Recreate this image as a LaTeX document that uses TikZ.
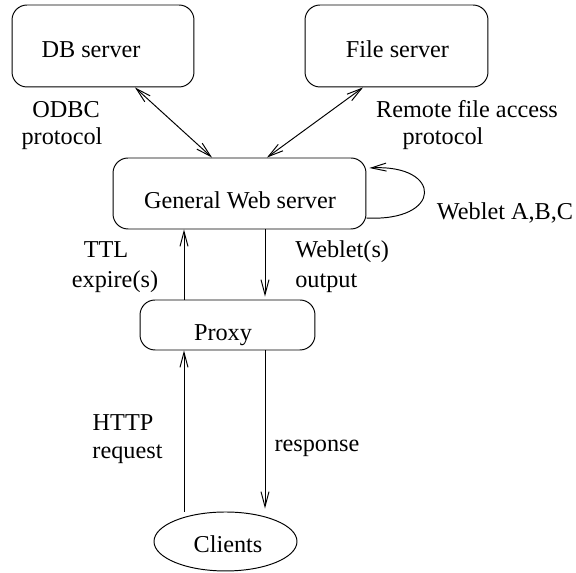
\documentclass[tikz,border=0pt]{standalone}
\usepackage{fontspec}
\setmainfont{Liberation Serif}
\usetikzlibrary{shapes.geometric, arrows.meta, positioning}

\begin{document}
\begin{tikzpicture}[
    x=0.02cm, y=-0.02cm,
    font=\fontsize{13.8pt}{16pt}\selectfont,
    srv/.style={rectangle, rounded corners=0.3cm, draw, line width=0.55pt, inner sep=0pt},
    client/.style={ellipse, draw, line width=0.55pt, inner sep=0pt},
    txt/.style={anchor=base, inner sep=0pt},
    arrow/.style={line width=0.55pt, -{Straight Barb[length=0.3cm, width=0.16cm]}},
    biarrow/.style={line width=0.55pt, {Straight Barb[length=0.3cm, width=0.16cm]}-{Straight Barb[length=0.3cm, width=0.16cm]}}
]
\useasboundingbox (0,0) rectangle (576,573);

% boxes
\node[srv, minimum width=3.64cm, minimum height=1.64cm] (db) at (103,46) {};
\node[srv, minimum width=3.66cm, minimum height=1.64cm] (file) at (396.5,46) {};
\node[srv, minimum width=5.06cm, minimum height=1.42cm] (web) at (239.5,193.5) {};
\node[srv, minimum width=3.5cm, minimum height=1cm] (proxy) at (227.5,325) {};
\node[client, minimum width=2.86cm, minimum height=1.18cm] (clients) at (225.5,541.5) {};

% box texts
\node[txt] (dbtext) at (91,58) {DB server};
\node[txt] (filetext) at (397.5,58) {File server};
\node[txt] (webtext) at (240,209) {General Web server};
\node[txt] (proxytext) at (223,341) {Proxy};
\node[txt] (clienttext) at (228,553) {Clients};

% connector labels
\node[txt] (odbc1) at (66,118) {ODBC};
\node[txt] (odbc2) at (62,145) {protocol};
\node[txt] (rfa1) at (467,118) {Remote file access};
\node[txt] (rfa2) at (443,145) {protocol};
\node[txt] (weblets) at (505,220) {Weblet A,B,C};
\node[txt] (ttl1) at (106,258) {TTL};
\node[txt] (ttl2) at (115,288) {expire(s)};
\node[txt, anchor=base west] (out1) at (295,258) {Weblet(s)};
\node[txt, anchor=base west] (out2) at (295,288) {output};
\node[txt] (http1) at (123,431) {HTTP};
\node[txt] (http2) at (127.5,459) {request};
\node[txt] (resp) at (317,452) {response};

% connectors
\coordinate (upx) at (184,0);
\coordinate (dnx) at (265,0);
\draw[biarrow] ([xshift=0.64cm]db.south) -- ([xshift=-0.55cm]web.north);
\draw[biarrow] ([xshift=-0.67cm]file.south) -- ([xshift=0.55cm]web.north);
\draw[arrow] ([yshift=-0.49cm]web.east) .. controls (443,222) and (443,164) .. ([xshift=0.06cm, yshift=0.51cm]web.east);
\draw[arrow, shorten >=0.06cm] (dnx |- web.south) -- (dnx |- proxy.north);
\draw[arrow] (upx |- proxy.north) -- (upx |- web.south);
\draw[arrow] (upx |- clients.north) -- (upx |- proxy.south);
\draw[arrow, shorten >=0.06cm] (dnx |- proxy.south) -- (dnx |- clients.north);
\end{tikzpicture}
\end{document}
